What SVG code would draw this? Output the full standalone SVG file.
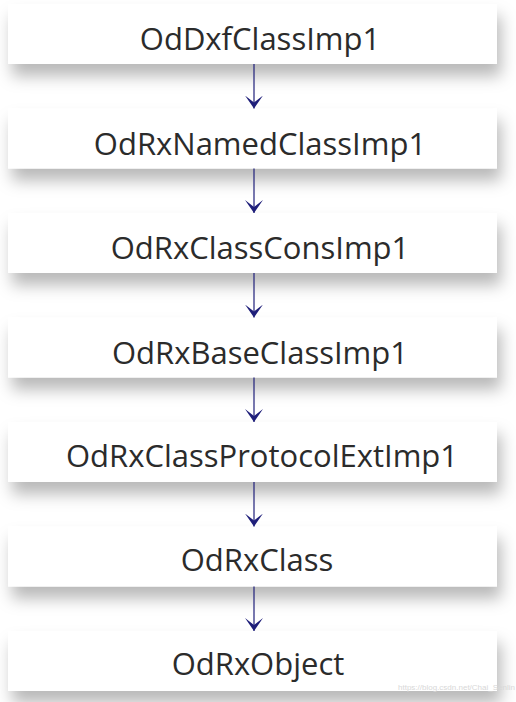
<svg xmlns="http://www.w3.org/2000/svg" width="516" height="702" viewBox="0 0 516 702">
<style>
.box{fill:#ffffff;filter:url(#sh);}
.lbl{font-family:"Open Sans","Noto Sans",sans-serif;font-size:31px;fill:#2b2b2b;text-anchor:middle;}
.conn{stroke:#1f1f7a;stroke-width:1.2;fill:none;marker-end:url(#ah);}
.wm{font-family:"Liberation Sans",sans-serif;font-size:8px;fill:#d8d8d8;}
</style>
<defs>
<filter id="sh" x="-10%" y="-30%" width="125%" height="190%">
<feDropShadow dx="4" dy="12" stdDeviation="8" flood-color="#000" flood-opacity="0.28"/>
</filter>
<marker id="ah" markerWidth="14" markerHeight="20" viewBox="-13 -10 14 20" refX="0" refY="0" markerUnits="userSpaceOnUse" orient="auto">
<path d="M0,0 L-13,-9 L-6,0 L-13,9 Z" fill="#1f1f7a"/>
</marker>
</defs>
<rect width="516" height="702" fill="#ffffff"/>
<g id="n1"><rect class="box" x="8" y="4" width="489" height="60"/><text class="lbl" x="260" y="50">OdDxfClassImp1</text></g>
<g id="n2"><rect class="box" x="8" y="108.5" width="489" height="60"/><text class="lbl" x="260" y="154.5">OdRxNamedClassImp1</text></g>
<g id="n3"><rect class="box" x="8" y="213" width="489" height="60"/><text class="lbl" x="260" y="259">OdRxClassConsImp1</text></g>
<g id="n4"><rect class="box" x="8" y="317.5" width="489" height="60"/><text class="lbl" x="260" y="363.5">OdRxBaseClassImp1</text></g>
<g id="n5"><rect class="box" x="8" y="422" width="489" height="60"/><text class="lbl" x="262" y="467">OdRxClassProtocolExtImp1</text></g>
<g id="n6"><rect class="box" x="8" y="526.5" width="489" height="60"/><text class="lbl" x="257" y="571">OdRxClass</text></g>
<g id="n7"><rect class="box" x="8" y="631" width="489" height="60"/><text class="lbl" x="258" y="675">OdRxObject</text></g>
<g id="connectors">
<line class="conn" x1="254" y1="64" x2="254" y2="108.5"/>
<line class="conn" x1="254" y1="168.5" x2="254" y2="213"/>
<line class="conn" x1="254" y1="273" x2="254" y2="317.5"/>
<line class="conn" x1="254" y1="377.5" x2="254" y2="422"/>
<line class="conn" x1="254" y1="482" x2="254" y2="526.5"/>
<line class="conn" x1="254" y1="586.5" x2="254" y2="631"/>
</g>
<text class="wm" x="398" y="690">https://blog.csdn.net/Chai_Senlin</text>
</svg>
